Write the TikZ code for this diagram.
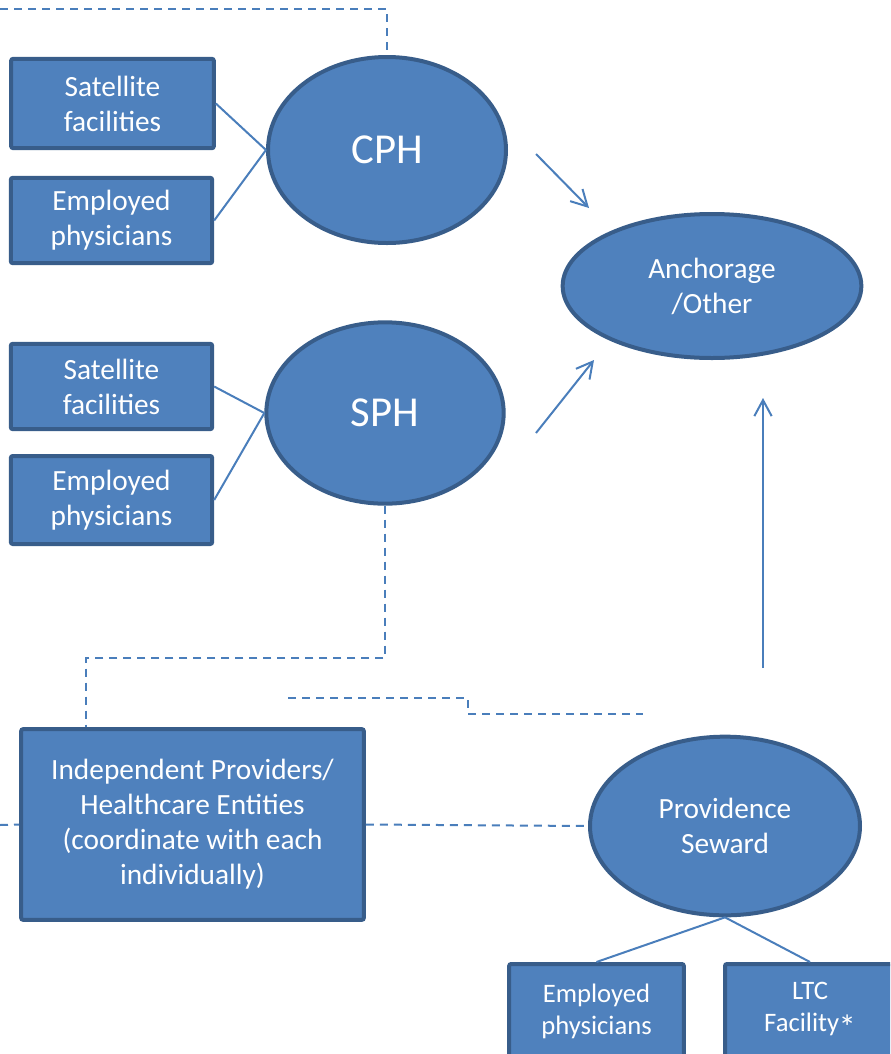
\documentclass[tikz,border=0pt]{standalone}
\usepackage{fontspec}
\setmainfont{Carlito}
\usepackage{tikz}
\usetikzlibrary{shapes.geometric,positioning,arrows.meta}
\definecolor{hubfill}{HTML}{4F81BD}
\definecolor{hubborder}{HTML}{385D8A}
\definecolor{linkblue}{HTML}{4A7EBB}

\begin{document}
\begin{tikzpicture}
[x=0.75pt, y=-0.75pt, font=\fontsize{22}{26.25}\selectfont,
>={Straight Barb[length=12pt,width=13pt]},
% STYLES
% The unit style is used for the member boxes
unit/.style={rectangle, draw=hubborder, fill=hubfill, line width=3pt, rounded corners=1.5pt, text=white, align=center, inner sep=0pt},
% The hub style is used for the hospitals
hub/.style={ellipse, draw=hubborder, fill=hubfill, line width=3pt, text=white, align=center, inner sep=0pt},
% The link styles are used for the connections
link/.style={draw=linkblue, line width=1.5pt},
dlink/.style={draw=linkblue, line width=1.5pt, dash pattern=on 6pt off 4.5pt}]

\useasboundingbox (0,0) rectangle (890,1054);
\clip (0,0) rectangle (890,1054);

% Draw hubs
\node [hub, minimum width=178.5pt, minimum height=139.5pt, font=\fontsize{32}{38}\selectfont] (cph) at (387,150) {CPH};
\node [hub, minimum width=178pt, minimum height=136pt, font=\fontsize{32}{38}\selectfont] (sph) at (385,413) {SPH};
\node [hub, minimum width=224pt, minimum height=108pt] (anchorage) at (712,286) {Anchorage\\/Other};
\node [hub, minimum width=202.5pt, minimum height=134pt] (providence) at (725,826) {Providence\\Seward};

% Draw member boxes
\node [unit, minimum width=152pt, minimum height=67pt] (sat1) at (112.5,103.5) {Satellite\\facilities};
\node [unit, minimum width=151pt, minimum height=64pt] (emp1) at (111.5,220.5) {Employed\\physicians};
\node [unit, minimum width=151pt, minimum height=64pt] (sat2) at (111.5,386.5) {Satellite\\facilities};
\node [unit, minimum width=151pt, minimum height=66pt] (emp2) at (111.5,500) {Employed\\physicians};
\node [unit, minimum width=257pt, minimum height=143pt] (indep) at (192.5,824.5) {Independent Providers/\\Healthcare Entities\\(coordinate with each\\individually)};
\node [unit, minimum width=131pt, minimum height=70.5pt, font=\fontsize{20}{24}\selectfont] (emp3) at (596.5,1011) {Employed\\physicians};
\node [unit, minimum width=127.5pt, minimum height=70.5pt, font=\fontsize{20}{24}\selectfont] (ltc) at (810,1011) {LTC\\Facility\kern-0.5pt\raisebox{-6pt}{\scalebox{1.3}{*}}};

% Free ends of the connectors
\coordinate (topend) at (0,9);
\coordinate (leftend) at (0,825);
\coordinate (kink) at (86,658);
\coordinate (gapa) at (288,698);
\coordinate (gapb) at (643,714);
\coordinate (cfrom) at (536,154);
\coordinate (cto) at (589,208);
\coordinate (sfrom) at (536,433);
\coordinate (sto) at (594,360);
\coordinate (pfrom) at (763,668);
\coordinate (pto) at (763,398);

% Draw the links
\path[link]
(sat1.east) edge (cph.west)
(emp1.east) edge (cph.west)
(sat2.east) edge (sph.west)
(emp2.east) edge (sph.west)
(providence.south) edge (emp3.north)
(providence.south) edge (ltc.north);

% Arrows towards Anchorage
\draw[link, ->] (cfrom) -- (cto);
\draw[link, ->] (sfrom) -- (sto);
\draw[link, ->] (pfrom) -- (pto);

% Dashed links
\draw[dlink] (topend) -| (cph.north);
\draw[dlink] (sph.south) |- (kink) -- (kink |- indep.north);
\draw[dlink] (gapa) -- ++(180,0) |- (gapb);
\draw[dlink] (leftend) -- (indep.west);
\draw[dlink] (indep.east) -- (providence.west);

\end{tikzpicture}
\end{document}
